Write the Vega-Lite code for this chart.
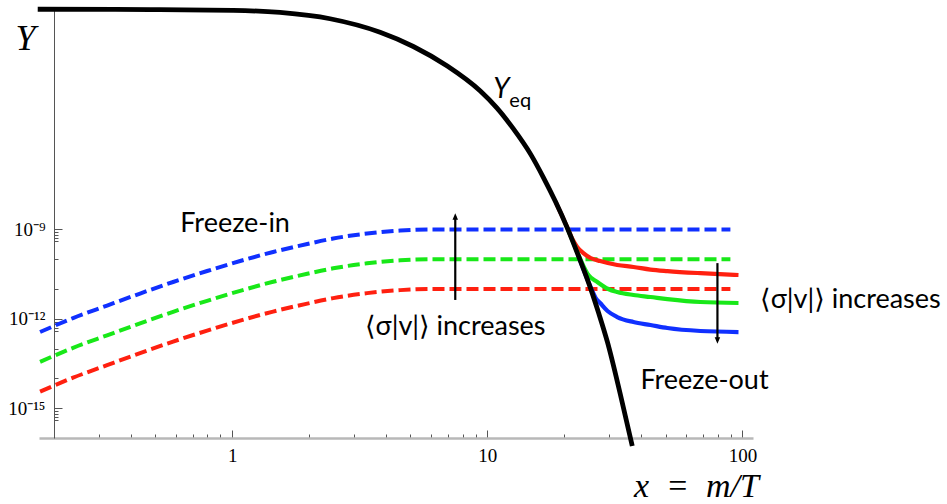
{
  "$schema": "https://vega.github.io/schema/vega-lite/v6.json",
  "width": 714,
  "height": 429,
  "autosize": {"type": "none"},
  "padding": {"left": 39, "top": 9, "right": 194, "bottom": 66},
  "background": "white",
  "config": {"view": {"stroke": null}},
  "datasets": {
    "curves": [
      {"s": "eq", "c": "black", "k": "eq", "x": 0.173, "y": 0.0245},
      {"s": "eq", "c": "black", "k": "eq", "x": 0.477, "y": 0.0239},
      {"s": "eq", "c": "black", "k": "eq", "x": 1.009, "y": 0.0225},
      {"s": "eq", "c": "black", "k": "eq", "x": 1.54, "y": 0.0191},
      {"s": "eq", "c": "black", "k": "eq", "x": 2.42, "y": 0.01175},
      {"s": "eq", "c": "black", "k": "eq", "x": 3.8, "y": 0.00414},
      {"s": "eq", "c": "black", "k": "eq", "x": 5.13, "y": 0.00138},
      {"s": "eq", "c": "black", "k": "eq", "x": 6.97, "y": 0.000304},
      {"s": "eq", "c": "black", "k": "eq", "x": 9.39, "y": 4.41e-5},
      {"s": "eq", "c": "black", "k": "eq", "x": 10.9, "y": 1.2e-5},
      {"s": "eq", "c": "black", "k": "eq", "x": 12.6, "y": 2.5e-6},
      {"s": "eq", "c": "black", "k": "eq", "x": 14.8, "y": 3.3e-7},
      {"s": "eq", "c": "black", "k": "eq", "x": 16.6, "y": 5.5e-8},
      {"s": "eq", "c": "black", "k": "eq", "x": 18.5, "y": 8.6e-9},
      {"s": "eq", "c": "black", "k": "eq", "x": 20.6, "y": 1.11e-9},
      {"s": "eq", "c": "black", "k": "eq", "x": 22.7, "y": 1.38e-10},
      {"s": "eq", "c": "black", "k": "eq", "x": 25.4, "y": 1.05e-11},
      {"s": "eq", "c": "black", "k": "eq", "x": 27.3, "y": 1.59e-12},
      {"s": "eq", "c": "black", "k": "eq", "x": 29.6, "y": 1.61e-13},
      {"s": "eq", "c": "black", "k": "eq", "x": 33.2, "y": 3.0e-15},
      {"s": "eq", "c": "black", "k": "eq", "x": 37.0, "y": 5.4e-17},

      {"s": "bd", "c": "blue", "k": "dash", "x": 0.1767, "y": 3.6e-13},
      {"s": "bd", "c": "blue", "k": "dash", "x": 0.238, "y": 1.06e-12},
      {"s": "bd", "c": "blue", "k": "dash", "x": 0.3235, "y": 2.79e-12},
      {"s": "bd", "c": "blue", "k": "dash", "x": 0.4357, "y": 7.06e-12},
      {"s": "bd", "c": "blue", "k": "dash", "x": 0.587, "y": 1.72e-11},
      {"s": "bd", "c": "blue", "k": "dash", "x": 0.798, "y": 4.02e-11},
      {"s": "bd", "c": "blue", "k": "dash", "x": 1.075, "y": 8.7e-11},
      {"s": "bd", "c": "blue", "k": "dash", "x": 1.447, "y": 1.75e-10},
      {"s": "bd", "c": "blue", "k": "dash", "x": 1.97, "y": 3.24e-10},
      {"s": "bd", "c": "blue", "k": "dash", "x": 2.49, "y": 4.95e-10},
      {"s": "bd", "c": "blue", "k": "dash", "x": 3.38, "y": 7.28e-10},
      {"s": "bd", "c": "blue", "k": "dash", "x": 4.56, "y": 9.18e-10},
      {"s": "bd", "c": "blue", "k": "dash", "x": 6.14, "y": 1.0e-9},
      {"s": "bd", "c": "blue", "k": "dash", "x": 9.6, "y": 1.0e-9},
      {"s": "bd", "c": "blue", "k": "dash", "x": 89.7, "y": 1.0e-9},

      {"s": "gd", "c": "green", "k": "dash", "x": 0.1767, "y": 3.6e-14},
      {"s": "gd", "c": "green", "k": "dash", "x": 0.238, "y": 1.06e-13},
      {"s": "gd", "c": "green", "k": "dash", "x": 0.3235, "y": 2.79e-13},
      {"s": "gd", "c": "green", "k": "dash", "x": 0.4357, "y": 7.06e-13},
      {"s": "gd", "c": "green", "k": "dash", "x": 0.587, "y": 1.72e-12},
      {"s": "gd", "c": "green", "k": "dash", "x": 0.798, "y": 4.02e-12},
      {"s": "gd", "c": "green", "k": "dash", "x": 1.075, "y": 8.7e-12},
      {"s": "gd", "c": "green", "k": "dash", "x": 1.447, "y": 1.75e-11},
      {"s": "gd", "c": "green", "k": "dash", "x": 1.97, "y": 3.24e-11},
      {"s": "gd", "c": "green", "k": "dash", "x": 2.49, "y": 4.95e-11},
      {"s": "gd", "c": "green", "k": "dash", "x": 3.38, "y": 7.28e-11},
      {"s": "gd", "c": "green", "k": "dash", "x": 4.56, "y": 9.18e-11},
      {"s": "gd", "c": "green", "k": "dash", "x": 6.14, "y": 1.0e-10},
      {"s": "gd", "c": "green", "k": "dash", "x": 9.6, "y": 1.0e-10},
      {"s": "gd", "c": "green", "k": "dash", "x": 89.7, "y": 1.0e-10},

      {"s": "rd", "c": "red", "k": "dash", "x": 0.1767, "y": 3.6e-15},
      {"s": "rd", "c": "red", "k": "dash", "x": 0.238, "y": 1.06e-14},
      {"s": "rd", "c": "red", "k": "dash", "x": 0.3235, "y": 2.79e-14},
      {"s": "rd", "c": "red", "k": "dash", "x": 0.4357, "y": 7.06e-14},
      {"s": "rd", "c": "red", "k": "dash", "x": 0.587, "y": 1.72e-13},
      {"s": "rd", "c": "red", "k": "dash", "x": 0.798, "y": 4.02e-13},
      {"s": "rd", "c": "red", "k": "dash", "x": 1.075, "y": 8.7e-13},
      {"s": "rd", "c": "red", "k": "dash", "x": 1.447, "y": 1.75e-12},
      {"s": "rd", "c": "red", "k": "dash", "x": 1.97, "y": 3.24e-12},
      {"s": "rd", "c": "red", "k": "dash", "x": 2.49, "y": 4.95e-12},
      {"s": "rd", "c": "red", "k": "dash", "x": 3.38, "y": 7.28e-12},
      {"s": "rd", "c": "red", "k": "dash", "x": 4.56, "y": 9.18e-12},
      {"s": "rd", "c": "red", "k": "dash", "x": 6.14, "y": 1.0e-11},
      {"s": "rd", "c": "red", "k": "dash", "x": 9.6, "y": 1.0e-11},
      {"s": "rd", "c": "red", "k": "dash", "x": 89.7, "y": 1.0e-11},

      {"s": "rs", "c": "red", "k": "solid", "x": 18.5, "y": 8.6e-9},
      {"s": "rs", "c": "red", "k": "solid", "x": 20.6, "y": 1.15e-9},
      {"s": "rs", "c": "red", "k": "solid", "x": 21.5, "y": 5.0e-10},
      {"s": "rs", "c": "red", "k": "solid", "x": 22.5, "y": 2.6e-10},
      {"s": "rs", "c": "red", "k": "solid", "x": 23.8, "y": 1.6e-10},
      {"s": "rs", "c": "red", "k": "solid", "x": 25.4, "y": 1.1e-10},
      {"s": "rs", "c": "red", "k": "solid", "x": 27.7, "y": 8.7e-11},
      {"s": "rs", "c": "red", "k": "solid", "x": 32.3, "y": 6.4e-11},
      {"s": "rs", "c": "red", "k": "solid", "x": 37.4, "y": 5.5e-11},
      {"s": "rs", "c": "red", "k": "solid", "x": 43.6, "y": 4.5e-11},
      {"s": "rs", "c": "red", "k": "solid", "x": 50.8, "y": 4.0e-11},
      {"s": "rs", "c": "red", "k": "solid", "x": 68.4, "y": 3.4e-11},
      {"s": "rs", "c": "red", "k": "solid", "x": 96.5, "y": 2.95e-11},

      {"s": "gs", "c": "green", "k": "solid", "x": 20.6, "y": 1.11e-9},
      {"s": "gs", "c": "green", "k": "solid", "x": 22.7, "y": 1.5e-10},
      {"s": "gs", "c": "green", "k": "solid", "x": 23.8, "y": 6.0e-11},
      {"s": "gs", "c": "green", "k": "solid", "x": 24.9, "y": 2.95e-11},
      {"s": "gs", "c": "green", "k": "solid", "x": 27.0, "y": 1.72e-11},
      {"s": "gs", "c": "green", "k": "solid", "x": 29.8, "y": 1.0e-11},
      {"s": "gs", "c": "green", "k": "solid", "x": 32.3, "y": 7.9e-12},
      {"s": "gs", "c": "green", "k": "solid", "x": 37.4, "y": 6.3e-12},
      {"s": "gs", "c": "green", "k": "solid", "x": 43.6, "y": 5.4e-12},
      {"s": "gs", "c": "green", "k": "solid", "x": 50.8, "y": 4.6e-12},
      {"s": "gs", "c": "green", "k": "solid", "x": 68.4, "y": 3.66e-12},
      {"s": "gs", "c": "green", "k": "solid", "x": 96.5, "y": 3.4e-12},

      {"s": "bs", "c": "blue", "k": "solid", "x": 22.7, "y": 1.38e-10},
      {"s": "bs", "c": "blue", "k": "solid", "x": 25.0, "y": 1.6e-11},
      {"s": "bs", "c": "blue", "k": "solid", "x": 25.8, "y": 8.5e-12},
      {"s": "bs", "c": "blue", "k": "solid", "x": 26.6, "y": 5.0e-12},
      {"s": "bs", "c": "blue", "k": "solid", "x": 27.7, "y": 3.4e-12},
      {"s": "bs", "c": "blue", "k": "solid", "x": 29.6, "y": 1.83e-12},
      {"s": "bs", "c": "blue", "k": "solid", "x": 32.3, "y": 1.15e-12},
      {"s": "bs", "c": "blue", "k": "solid", "x": 37.4, "y": 7.8e-13},
      {"s": "bs", "c": "blue", "k": "solid", "x": 43.6, "y": 6.2e-13},
      {"s": "bs", "c": "blue", "k": "solid", "x": 50.8, "y": 4.9e-13},
      {"s": "bs", "c": "blue", "k": "solid", "x": 68.4, "y": 3.9e-13},
      {"s": "bs", "c": "blue", "k": "solid", "x": 96.5, "y": 3.6e-13}
    ],
    "arrows": [
      {"dir": "up", "x": 7.49, "y": 4.3e-12, "y2": 2.71e-9},
      {"dir": "down", "x": 79.8, "y": 7.4e-11, "y2": 1.87e-13}
    ],
    "notes": [
      {"t": "Freeze-in", "x": 1.027, "y": 1.52e-9},
      {"t": "⟨σ|v|⟩ increases", "x": 7.49, "y": 5.3e-13},
      {"t": "⟨σ|v|⟩ increases", "x": 265, "y": 4.3e-12},
      {"t": "Freeze-out", "x": 71.0, "y": 8.2e-15}
    ],
    "yeq": [
      {"t": "Y", "x": 11.35, "y": 4.8e-5}
    ],
    "yeqsub": [
      {"t": "eq", "x": 12.2, "y": 2.04e-5}
    ]
  },
  "layer": [
    {
      "data": {"name": "curves"},
      "transform": [{"filter": "datum.k == 'dash'"}],
      "mark": {"type": "line", "clip": false, "strokeWidth": 4, "strokeDash": [12, 5], "strokeCap": "butt", "interpolate": "monotone"},
      "encoding": {
        "x": {
          "field": "x", "type": "quantitative",
          "scale": {"type": "log", "domain": [0.175, 110], "nice": false},
          "axis": {
            "values": [0.3, 0.4, 0.5, 0.6, 0.7, 0.8, 0.9, 1, 2, 3, 4, 5, 6, 7, 8, 9, 10, 20, 30, 40, 50, 60, 70, 80, 90, 100],
            "labelExpr": "datum.value == 1 ? '1' : datum.value == 10 ? '10' : datum.value == 100 ? '100' : ''",
            "tickSize": {"condition": {"test": "datum.value == 1 || datum.value == 10 || datum.value == 100", "value": -8}, "value": -4},
            "tickColor": "#555555", "tickWidth": 1,
            "domainColor": "#b8b8b8", "domainWidth": 2.5,
            "labelFont": "Liberation Serif", "labelFontSize": 19, "labelColor": "black", "labelPadding": 16,
            "labelOverlap": false, "labelFlush": false, "labelBound": false, "grid": false,
            "title": "x\u2002=\u2002m/T", "titleFont": "Liberation Serif", "titleFontStyle": "italic", "titleFontWeight": "normal",
            "titleFontSize": 34, "titleColor": "black", "titleX": 657, "titleY": 48, "titleAlign": "center", "titleBaseline": "middle"
          }
        },
        "y": {
          "field": "y", "type": "quantitative",
          "scale": {"type": "log", "domain": [1e-16, 0.025], "nice": false},
          "axis": {
            "values": [1e-9, 8e-10, 6.5e-10, 5e-10, 4e-10, 1e-10, 1e-11, 1e-12, 8e-13, 6.5e-13, 5e-13, 4e-13, 1e-13, 1e-14, 1e-15, 8e-16, 6.5e-16, 5e-16, 4e-16],
            "labelExpr": "datum.value == 1e-9 ? '10⁻⁹' : datum.value == 1e-12 ? '10⁻¹²' : datum.value == 1e-15 ? '10⁻¹⁵' : ''",
            "tickSize": {"condition": {"test": "datum.value == 1e-9 || datum.value == 1e-12 || datum.value == 1e-15", "value": -8}, "value": -4},
            "tickColor": "#555555", "tickWidth": 1,
            "domainColor": "#555555", "domainWidth": 1,
            "offset": -15,
            "labelFont": "Liberation Serif", "labelFontSize": 19, "labelColor": "black", "labelPadding": 17,
            "labelOverlap": false, "labelFlush": false, "labelBound": false, "grid": false,
            "title": "Y", "titleFont": "Liberation Serif", "titleFontStyle": "italic", "titleFontWeight": "normal",
            "titleFontSize": 36, "titleColor": "black", "titleAngle": 0, "titleX": -29, "titleY": 29, "titleAlign": "center", "titleBaseline": "middle"
          }
        },
        "color": {"field": "c", "type": "nominal", "scale": {"domain": ["black", "blue", "green", "red"], "range": ["#000000", "#1030ff", "#18e818", "#ff2010"]}, "legend": null},
        "detail": {"field": "s"}
      }
    },
    {
      "data": {"name": "curves"},
      "transform": [{"filter": "datum.k == 'solid'"}],
      "mark": {"type": "line", "clip": false, "strokeWidth": 4.2, "strokeCap": "butt", "strokeJoin": "round", "interpolate": "monotone"},
      "encoding": {
        "x": {"field": "x", "type": "quantitative", "scale": {"type": "log", "domain": [0.175, 110], "nice": false}},
        "y": {"field": "y", "type": "quantitative", "scale": {"type": "log", "domain": [1e-16, 0.025], "nice": false}},
        "color": {"field": "c", "type": "nominal", "scale": {"domain": ["black", "blue", "green", "red"], "range": ["#000000", "#1030ff", "#18e818", "#ff2010"]}, "legend": null},
        "detail": {"field": "s"}
      }
    },
    {
      "data": {"name": "curves"},
      "transform": [{"filter": "datum.k == 'eq'"}],
      "mark": {"type": "line", "clip": false, "strokeWidth": 4.8, "strokeCap": "butt", "strokeJoin": "round", "interpolate": "monotone", "color": "black"},
      "encoding": {
        "x": {"field": "x", "type": "quantitative", "scale": {"type": "log", "domain": [0.175, 110], "nice": false}},
        "y": {"field": "y", "type": "quantitative", "scale": {"type": "log", "domain": [1e-16, 0.025], "nice": false}}
      }
    },
    {
      "data": {"name": "arrows"},
      "mark": {"type": "rule", "clip": false, "strokeWidth": 2.2, "color": "black"},
      "encoding": {
        "x": {"field": "x", "type": "quantitative", "scale": {"type": "log", "domain": [0.175, 110], "nice": false}},
        "y": {"field": "y", "type": "quantitative", "scale": {"type": "log", "domain": [1e-16, 0.025], "nice": false}},
        "y2": {"field": "y2"}
      }
    },
    {
      "data": {"name": "arrows"},
      "transform": [{"filter": "datum.dir == 'up'"}],
      "mark": {"type": "point", "clip": false, "filled": true, "color": "black", "opacity": 1, "size": 169, "shape": "M0,-0.5L0.42,0.5L-0.42,0.5Z"},
      "encoding": {
        "x": {"field": "x", "type": "quantitative", "scale": {"type": "log", "domain": [0.175, 110], "nice": false}},
        "y": {"field": "y2", "type": "quantitative", "scale": {"type": "log", "domain": [1e-16, 0.025], "nice": false}}
      }
    },
    {
      "data": {"name": "arrows"},
      "transform": [{"filter": "datum.dir == 'down'"}],
      "mark": {"type": "point", "clip": false, "filled": true, "color": "black", "opacity": 1, "size": 169, "shape": "M0,0.5L0.42,-0.5L-0.42,-0.5Z"},
      "encoding": {
        "x": {"field": "x", "type": "quantitative", "scale": {"type": "log", "domain": [0.175, 110], "nice": false}},
        "y": {"field": "y2", "type": "quantitative", "scale": {"type": "log", "domain": [1e-16, 0.025], "nice": false}}
      }
    },
    {
      "data": {"name": "notes"},
      "mark": {"type": "text", "font": "Lato, 'DejaVu Sans', sans-serif", "fontSize": 27, "color": "black", "align": "center", "baseline": "middle"},
      "encoding": {
        "x": {"field": "x", "type": "quantitative", "scale": {"type": "log", "domain": [0.175, 110], "nice": false}},
        "y": {"field": "y", "type": "quantitative", "scale": {"type": "log", "domain": [1e-16, 0.025], "nice": false}},
        "text": {"field": "t"}
      }
    },
    {
      "data": {"name": "yeq"},
      "mark": {"type": "text", "font": "Lato, 'DejaVu Sans', sans-serif", "fontSize": 28, "fontStyle": "italic", "color": "black", "align": "center", "baseline": "middle"},
      "encoding": {
        "x": {"field": "x", "type": "quantitative", "scale": {"type": "log", "domain": [0.175, 110], "nice": false}},
        "y": {"field": "y", "type": "quantitative", "scale": {"type": "log", "domain": [1e-16, 0.025], "nice": false}},
        "text": {"field": "t"}
      }
    },
    {
      "data": {"name": "yeqsub"},
      "mark": {"type": "text", "font": "Lato, 'DejaVu Sans', sans-serif", "fontSize": 20, "color": "black", "align": "left", "baseline": "middle"},
      "encoding": {
        "x": {"field": "x", "type": "quantitative", "scale": {"type": "log", "domain": [0.175, 110], "nice": false}},
        "y": {"field": "y", "type": "quantitative", "scale": {"type": "log", "domain": [1e-16, 0.025], "nice": false}},
        "text": {"field": "t"}
      }
    }
  ]
}
